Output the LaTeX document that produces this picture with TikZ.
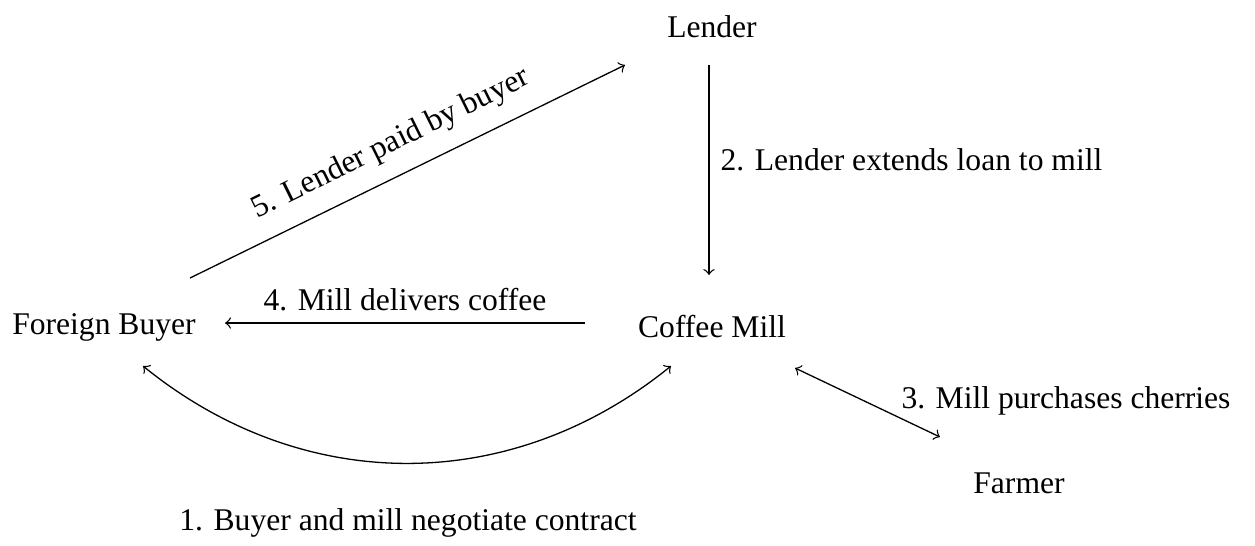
\documentclass[tikz,border=0pt]{standalone}
\usepackage{fontspec}
\setmainfont{Liberation Serif}
\begin{document}
\begin{tikzpicture}[x=0.3086pt,y=0.3086pt,
  lbl/.style={inner sep=0pt, font=\fontsize{9.75}{12}\selectfont},
  conn/.style={->, line width=0.4pt},
  biconn/.style={<->, line width=0.4pt}]
\useasboundingbox (0,0) rectangle (1255,545);
\node[lbl] (lender) at (712,518) {Lender};
\node[lbl] (buyer) at (104,218) {Foreign Buyer};
\node[lbl] (mill) at (712,218) {Coffee Mill};
\node[lbl] (farmer) at (1019,62) {Farmer};
\node[lbl] (l1) at (408,22) {1. Buyer and mill negotiate contract};
\node[lbl, anchor=west] (l2) at (720,385) {2. Lender extends loan to mill};
\node[lbl] (l3) at (1066,144) {3. Mill purchases cherries};
\node[lbl] (l4) at (405,245) {4. Mill delivers coffee};
\node[lbl, rotate=26.3] (l5) at (391,401) {5. Lender paid by buyer};
\draw[conn] ([shift={(-3,-38)}]lender.center) -- ([shift={(-3,52)}]mill.center);
\draw[conn] ([shift={(-127,4)}]mill.center) -- ([shift={(121,4)}]buyer.center);
\draw[conn] ([shift={(86,49)}]buyer.center) -- ([shift={(-87,-38)}]lender.center);
\draw[biconn] ([shift={(83,-41)}]mill.center) -- ([shift={(-79,46)}]farmer.center);
\draw[biconn] ([shift={(39,-39)}]buyer.center) to[out=-39,in=-141] ([shift={(-41,-39)}]mill.center);
\end{tikzpicture}
\end{document}
